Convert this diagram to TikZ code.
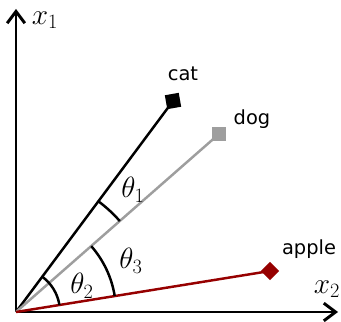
\documentclass[tikz,border=0pt]{standalone}
\usepackage{fontspec}
\newfontfamily\labelfont{DejaVu Sans}
\usepackage{xcolor}
\usetikzlibrary{arrows.meta,positioning,calc}
\definecolor{applered}{RGB}{150,0,0}
\definecolor{doggray}{RGB}{158,158,158}

\begin{document}
\begin{tikzpicture}[
  x=0.85pt,y=0.85pt,
  axis/.style={line width=2.5pt,-{Straight Barb[length=10pt,width=15pt,line width=2.5pt]}},
  vec/.style={line width=2.1pt},
  marker/.style={draw=none,inner sep=0pt,minimum size=11.5pt},
  anglearc/.style={line width=2.1pt},
  word/.style={font=\labelfont\fontsize{16.5}{19}\selectfont},
  sym/.style={font=\fontsize{24}{28}\selectfont},
]
\useasboundingbox (-16,-10) rectangle (325,312);
\coordinate (O) at (0,0);
\coordinate (x1tip) at (0,303);
\coordinate (x2tip) at (322,0);
\draw[axis] (O) -- (x1tip);
\draw[axis] (O) -- (x2tip);
\node[sym] (x1) at (29,292) {$x_1$};
\node[sym] (x2) at (311,23) {$x_2$};

\node[marker,fill=black,rotate=10,minimum size=12pt] (cat) at (157,211) {};
\node[marker,fill=doggray] (dog) at (203,178) {};
\node[marker,fill=applered,rotate=45,minimum size=11pt] (apple) at (254,41) {};
\draw[vec,black] (O) -- (cat.center);
\draw[vec,doggray] (O) -- (dog.center);
\draw[vec,applered] (O) -- (apple.center);

\node[word] (catlabel) at (167,238) {cat};
\node[word] (doglabel) at (236,193) {dog};
\node[word] (applelabel) at (293,63) {apple};

\draw[anglearc] ($(O)+(53.4:138)$) arc[start angle=53.4,end angle=41.2,radius=138];
\draw[anglearc] ($(O)+(41.2:100)$) arc[start angle=41.2,end angle=9.2,radius=100];
\draw[anglearc] ($(O)+(53.4:44)$) arc[start angle=53.4,end angle=9.2,radius=44];
\node[sym] (t1) at (117,122) {$\theta_1$};
\node[sym] (t3) at (115,51) {$\theta_3$};
\node[sym] (t2) at (66,26) {$\theta_2$};
\end{tikzpicture}
\end{document}
